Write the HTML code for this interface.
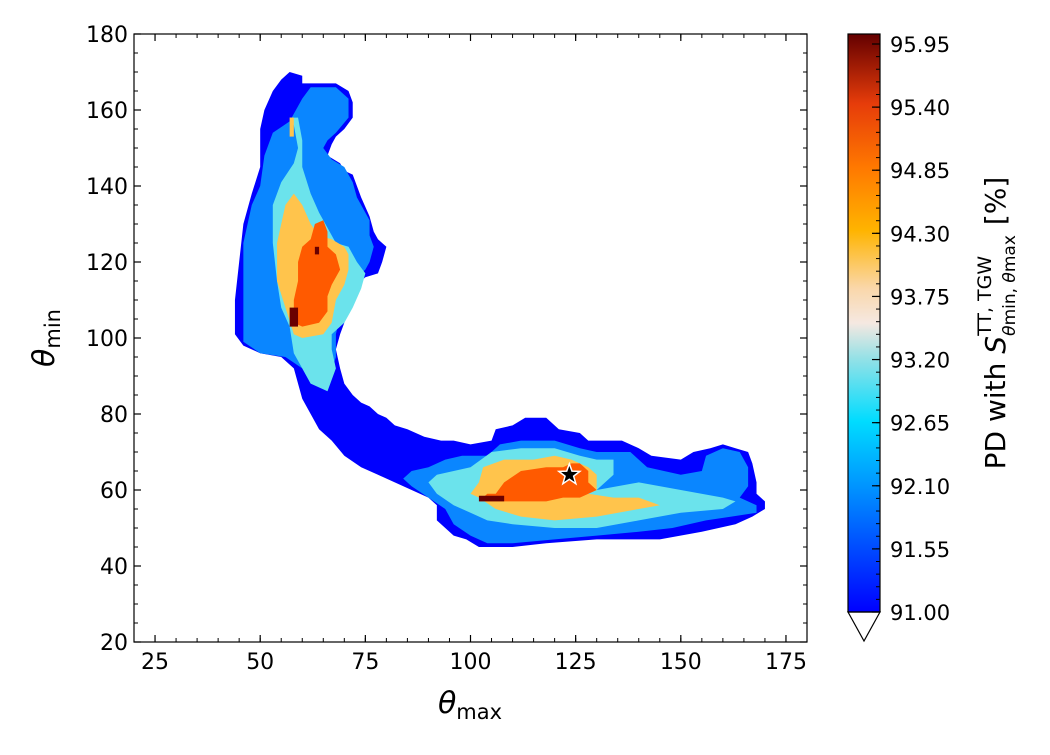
<!DOCTYPE html>
<html><head><meta charset="utf-8"><style>
body{margin:0;background:#fff;}
svg text{font-family:"DejaVu Sans","Liberation Sans",sans-serif;fill:#000;}
</style></head><body>
<svg id="chart" width="1050" height="750" viewBox="0 0 1050 750" xmlns="http://www.w3.org/2000/svg">
<defs>
<linearGradient id="cbgrad" x1="0" y1="1" x2="0" y2="0">
<stop offset="0" stop-color="#0000ff"/>
<stop offset="0.22" stop-color="#0096ff"/>
<stop offset="0.33" stop-color="#00dcff"/>
<stop offset="0.44" stop-color="#96e1e6"/>
<stop offset="0.50" stop-color="#f5e8e1"/>
<stop offset="0.56" stop-color="#fad7aa"/>
<stop offset="0.66" stop-color="#ffb400"/>
<stop offset="0.77" stop-color="#ff7800"/>
<stop offset="0.88" stop-color="#e63c0a"/>
<stop offset="1" stop-color="#640000"/>
</linearGradient>
<clipPath id="plotclip"><rect x="134" y="34" width="673" height="608"/></clipPath>
</defs>
<g id="marks" clip-path="url(#plotclip)"></g>
<g id="axes"></g>
<g id="cbar"></g>
</svg>
<script>
// ---- data (theta_max, theta_min) outlines of PD level regions ----
const xTicks = [25, 50, 75, 100, 125, 150, 175];
const yTicks = [20, 40, 60, 80, 100, 120, 140, 160, 180];
const cbTicks = ["91.00","91.55","92.10","92.65","93.20","93.75","94.30","94.85","95.40","95.95"];
const levelNames = ["level-91", "level-92", "level-93", "level-94", "level-95", "level-96"];
const levelColors = ["#0000ff", "#0a86ff", "#6be3ec", "#ffc44c", "#ff5a00", "#6a0000"];
const region0 = [[57,170],[60,169],[60,167],[68,167],[71,165],[72,162],[72,158],[70,155],[68,153],[67,151],[66,148],[69,146],[70,144],[72,143],[73,140],[74,137],[76,132],[77,128],[78,126],[80,124],[79,120],[78,117],[75,116],[73,114],[71,112],[70,108],[70,104],[69,101],[68,97],[69,92],[70,88],[72,85],[74,83],[76,82],[78,80],[80,79],[82,77],[85,76],[89,74],[93,73],[96,73],[100,72],[105,73],[106,76],[110,77],[113,79],[118,79],[121,76],[126,75],[128,73],[136,73],[140,71],[143,69],[150,68],[153,70],[157,71],[160,72],[163,71],[166,70],[167,67],[168,62],[168,59],[170,57],[170,55],[167,53],[163,51],[155,49],[145,47],[130,47],[118,46],[110,45],[102,45],[99,47],[96,48],[94,50],[92,52],[92,56],[90,58],[86,60],[82,62],[78,64],[74,66],[70,69],[67,73],[64,76],[62,80],[60,84],[59,88],[58,92],[55,95],[50,96],[46,98],[44,101],[44,110],[45,120],[46,130],[48,138],[50,145],[50,155],[51,160],[53,165],[55,168]];
const region1a = [[57,157],[60,163],[62,166],[68,166],[71,163],[71,158],[68,154],[66,152],[65,150],[67,147],[70,145],[72,141],[73,137],[76,131],[76,127],[77,124],[76,120],[75,118],[73,116],[70,112],[69,106],[68,101],[68,95],[66,88],[62,88],[60,92],[56,95],[50,96],[46,99],[46,110],[46,125],[48,135],[50,140],[51,148],[53,154]];
const region1b = [[94,68],[98,69],[104,69],[107,72],[112,73],[120,73],[126,71],[130,70],[138,70],[142,66],[150,64],[155,65],[156,69],[160,71],[164,70],[166,66],[166,61],[164,58],[168,56],[168,54],[162,53],[156,52],[148,50],[140,49],[130,48],[120,47],[110,46],[104,46],[100,48],[96,51],[94,55],[90,58],[86,61],[84,63],[86,65],[90,66]];
const region2a = [[57,158],[58,156],[59,150],[58,146],[55,141],[53,135],[53,125],[54,115],[55,108],[57,103],[58,96],[60,92],[62,88],[66,86],[68,92],[67,97],[67,101],[70,104],[72,108],[74,113],[75,117],[73,120],[71,124],[68,125],[66,129],[64,133],[62,138],[60,145],[60,152],[59,158]];
const region2b = [[100,66],[105,70],[112,71],[120,71],[126,69],[130,68],[134,68],[134,64],[130,60],[140,62],[150,60],[160,58],[163,57],[160,55],[150,54],[140,52],[130,50],[120,50],[110,51],[104,52],[100,54],[96,56],[92,59],[90,62],[92,64],[96,65]];
const region3a = [[56,135],[58,138],[60,135],[62,130],[64,127],[67,126],[70,124],[71,122],[71,118],[70,114],[68,110],[67,104],[65,101],[60,100],[58,101],[56,108],[54,115],[54,125],[55,130]];
const region3b = [[57,158],[58,158],[58,153],[57,153]];
const region3c = [[103,66],[108,68],[115,68],[120,69],[124,68],[128,66],[130,64],[130,60],[128,59],[134,58],[140,58],[145,56],[140,55],[130,53],[120,52],[112,53],[106,55],[102,58],[100,59],[102,62]];
const region4a = [[59,120],[60,124],[62,126],[63,130],[65,131],[66,128],[66,124],[68,122],[69,118],[67,114],[66,111],[66,107],[64,104],[60,103],[58,104],[58,110],[59,115]];
const region4b = [[106,59],[108,62],[112,65],[118,66],[122,66],[124,67],[126,67],[128,65],[128,62],[130,60],[126,58],[122,58],[118,57],[112,57],[106,57],[102,57],[104,59]];
const region5a = [[57,108],[59,108],[59,103],[57,103]];
const region5b = [[63,124],[64,124],[64,122],[63,122]];
const region5c = [[102,57],[102,58.5],[108,58.5],[108,57]];
const regionLevels = [0, 1, 1, 2, 2, 3, 3, 3, 4, 4, 5, 5, 5];
const regionShapes = [region0, region1a, region1b, region2a, region2b, region3a, region3b, region3c, region4a, region4b, region5a, region5b, region5c];
const bestFit = [123.5, 64];

// ---- axes ----
const X0=134, X1=807, Y0=642, Y1=34;
const xMin=20, xMax=180, yMin=20, yMax=180;
function sx(v){return X0+(v-xMin)/(xMax-xMin)*(X1-X0);}
function sy(v){return Y0-(v-yMin)/(yMax-yMin)*(Y0-Y1);}
const CB0=612, CB1=44, cbMin=91.00, cbMax=95.95;
function cy(v){return CB0-(v-cbMin)/(cbMax-cbMin)*(CB0-CB1);}
const NS="http://www.w3.org/2000/svg";
function mk(tag, attrs, parent){const e=document.createElementNS(NS,tag);for(const k in attrs)e.setAttribute(k,attrs[k]);parent.appendChild(e);return e;}

const marks=document.getElementById('marks');
regionShapes.forEach((shape,i)=>{
  const p=mk('polygon',{points:shape.map(d=>sx(d[0])+','+sy(d[1])).join(' '),fill:levelColors[regionLevels[i]]},marks);
  
  
});
(function(){
  const cx=sx(bestFit[0]), cyy=sy(bestFit[1]); const pts=[];
  for(let k=0;k<10;k++){const r=k%2?4.5:11;const a=-Math.PI/2+k*Math.PI/5;pts.push((cx+r*Math.cos(a))+','+(cyy+r*Math.sin(a)));}
  const s=mk('polygon',{points:pts.join(' '),fill:'#000',stroke:'#fff','stroke-width':1.5},marks);
  
  
})();

const axes=document.getElementById('axes');
const frame=mk('rect',{x:X0,y:Y1,width:X1-X0,height:Y0-Y1,fill:'none',stroke:'#000','stroke-width':1.2},axes);


xTicks.forEach(v=>{
  const x=sx(v);
  mk('line',{x1:x,y1:Y0,x2:x,y2:Y0-7,stroke:'#000','stroke-width':1.2},axes);
  mk('line',{x1:x,y1:Y1,x2:x,y2:Y1+7,stroke:'#000','stroke-width':1.2},axes);
  const t=mk('text',{x:x,y:Y0+27,'text-anchor':'middle','font-size':22},axes);t.textContent=v;
  
  
});
for(let v=xMin;v<=xMax;v+=5){const x=sx(v);
  mk('line',{x1:x,y1:Y0,x2:x,y2:Y0-4,stroke:'#000','stroke-width':1},axes);
  mk('line',{x1:x,y1:Y1,x2:x,y2:Y1+4,stroke:'#000','stroke-width':1},axes);}
yTicks.forEach(v=>{
  const y=sy(v);
  mk('line',{x1:X0,y1:y,x2:X0+7,y2:y,stroke:'#000','stroke-width':1.2},axes);
  mk('line',{x1:X1,y1:y,x2:X1-7,y2:y,stroke:'#000','stroke-width':1.2},axes);
  const t=mk('text',{x:X0-6,y:y+8,'text-anchor':'end','font-size':22},axes);t.textContent=v;
  
  
});
for(let v=yMin;v<=yMax;v+=5){const y=sy(v);
  mk('line',{x1:X0,y1:y,x2:X0+4,y2:y,stroke:'#000','stroke-width':1},axes);
  mk('line',{x1:X1,y1:y,x2:X1-4,y2:y,stroke:'#000','stroke-width':1},axes);}
const xl=mk('text',{x:470,y:713,'text-anchor':'middle','font-size':30},axes);
xl.innerHTML='<tspan font-style="italic">θ</tspan><tspan font-size="21" dy="6">max</tspan>';


const yl=mk('text',{x:0,y:0,'text-anchor':'middle','font-size':30,transform:'translate(54,338) rotate(-90)'},axes);
yl.innerHTML='<tspan font-style="italic">θ</tspan><tspan font-size="21" dy="6">min</tspan>';



// ---- colorbar ----
const cb=document.getElementById('cbar');
const CBX=848, CBW=32;
mk('rect',{x:CBX,y:34,width:CBW,height:CB0-34,fill:'url(#cbgrad)'},cb);
mk('polygon',{points:`${CBX},${CB0} ${CBX+CBW},${CB0} ${CBX+CBW/2},${CB0+29}`,fill:'#fff',stroke:'#000','stroke-width':1.2},cb);
mk('rect',{x:CBX,y:34,width:CBW,height:CB0-34,fill:'none',stroke:'#000','stroke-width':1.2},cb);
for(let v=cbMin;v<=96.0;v+=0.11){const y=cy(v); if(y<34)break;
  mk('line',{x1:CBX+CBW,y1:y,x2:CBX+CBW-4,y2:y,stroke:'#000','stroke-width':1},cb);}
cbTicks.forEach(s=>{
  const y=cy(parseFloat(s));
  mk('line',{x1:CBX+CBW,y1:y,x2:CBX+CBW-8,y2:y,stroke:'#000','stroke-width':1.2},cb);
  const t=mk('text',{x:CBX+CBW+10,y:y+8,'font-size':21},cb);t.textContent=s;
  
  
});
const cl=mk('text',{x:0,y:0,'text-anchor':'middle','font-size':28,transform:'translate(1005,323) rotate(-90)'},cb);
cl.innerHTML='PD with <tspan font-style="italic">S</tspan><tspan font-size="19" dy="-14">TT, TGW</tspan><tspan font-size="17" dx="-80" dy="24"><tspan font-style="italic">θ</tspan>min<tspan>, </tspan><tspan font-style="italic">θ</tspan>max</tspan><tspan dy="-10" dx="10">[%]</tspan>';


</script>
</body></html>
